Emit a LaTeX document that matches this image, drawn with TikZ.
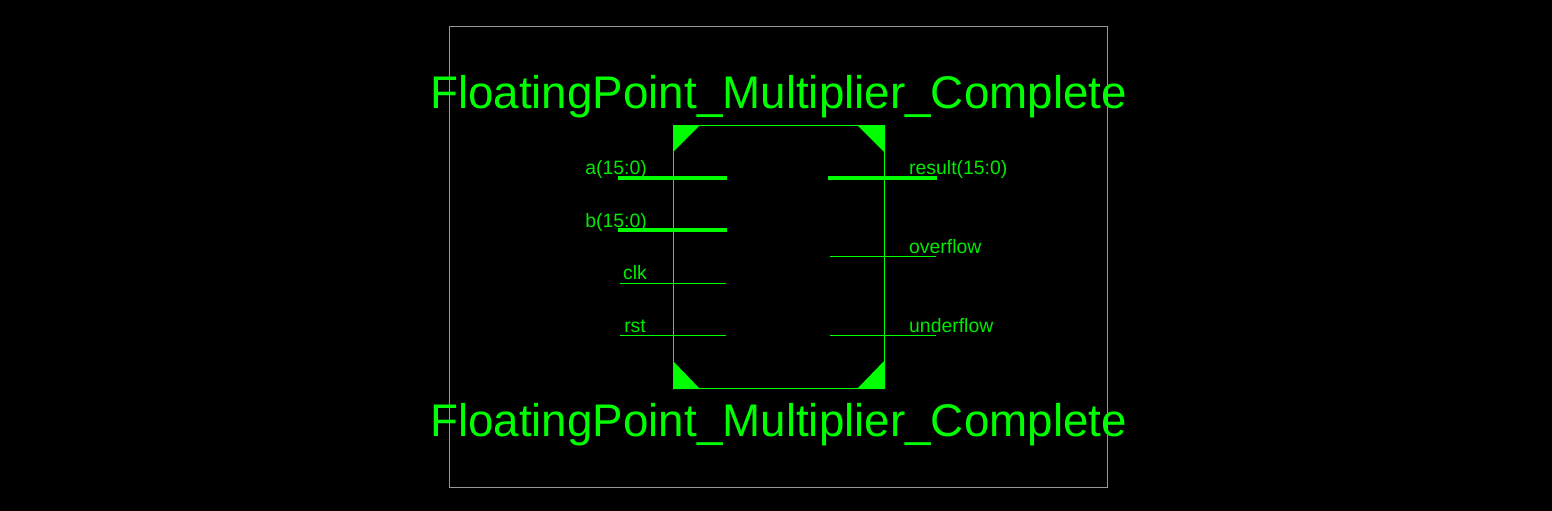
\documentclass[tikz,border=0pt]{standalone}
\usepackage{fontspec}
\setmainfont{Liberation Sans}
\definecolor{gr}{RGB}{0,255,0}
\definecolor{txt}{RGB}{0,235,0}
\definecolor{gy}{RGB}{150,150,150}
\tikzset{
 x=1pt,y=-1pt,
 thinw/.style={line width=1pt},
 pinthin/.style={draw=gr,line width=1pt},
 pinbus/.style={draw=gr,line width=4pt},
 title/.style={text=gr,font=\fontsize{45.75}{46}\selectfont,inner sep=0pt,anchor=base},
 pinlabel/.style={text=txt,font=\fontsize{19.4}{20}\selectfont,inner sep=0pt},
}
\begin{document}
\begin{tikzpicture}
\useasboundingbox (0,0) rectangle (1552,511);
\fill[black] (0,0) rectangle (1552,511);
\draw[draw=gy,thinw] (449.5,26.5) rectangle (1107.5,487.5);
\draw[draw=gr,thinw] (673.5,125.5) rectangle (884.5,388.5);
\fill[gr] (673,125) -- (700,125) -- (673,152) -- cycle;
\fill[gr] (885,125) -- (857,125) -- (885,153) -- cycle;
\fill[gr] (673,389) -- (700,389) -- (673,361) -- cycle;
\fill[gr] (885,389) -- (857,389) -- (885,360) -- cycle;
\node[title] (t1) at (778.5,108.7) {FloatingPoint\_Multiplier\_Complete};
\node[title] (t2) at (778.5,436.7) {FloatingPoint\_Multiplier\_Complete};
\draw[pinbus] (618,178) -- (727,178);
\draw[pinbus] (618,230) -- (727,230);
\draw[pinthin] (620,283.5) -- (726,283.5);
\draw[pinthin] (620,335.5) -- (726,335.5);
\draw[pinbus] (828,178) -- (937,178);
\draw[pinthin] (830,256.5) -- (936,256.5);
\draw[pinthin] (830,335.5) -- (936,335.5);
\node[pinlabel,anchor=base east] (la) at (647,174) {a(15:0)};
\node[pinlabel,anchor=base east] (lb) at (647,227) {b(15:0)};
\node[pinlabel,anchor=base east] (lc) at (647,279) {clk};
\node[pinlabel,anchor=base east] (lr) at (646,332) {rst};
\node[pinlabel,anchor=base west] (lo1) at (909,174) {result(15:0)};
\node[pinlabel,anchor=base west] (lo2) at (909,253) {overflow};
\node[pinlabel,anchor=base west] (lo3) at (909,332) {underflow};
\end{tikzpicture}
\end{document}
